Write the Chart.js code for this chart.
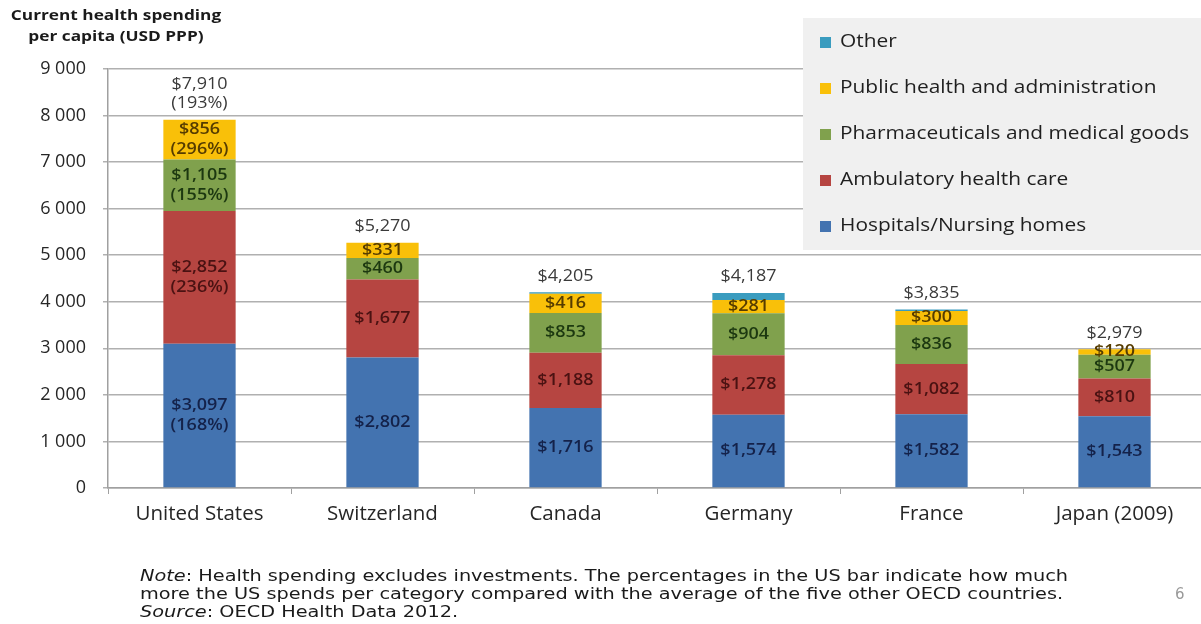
<!DOCTYPE html>
<html>
<head>
<meta charset="utf-8">
<script src="https://cdn.jsdelivr.net/npm/chart.js@4.4.1/dist/chart.umd.min.js"></script>
<style>
  html, body { margin: 0; padding: 0; background: #fff; overflow: hidden; width: 1201px; height: 624px; }
  #wrap { position: absolute; left: 0; top: 0; width: 1210px; height: 624px; }
  #title { position: absolute; left: 0; top: 4px; width: 232px; text-align: center; font: bold 14.5px "Open Sans", sans-serif; line-height: 21px; color: #1a1a1a; transform: scaleX(1.19); transform-origin: 116px 0; }
  #note { position: absolute; left: 140px; top: 567px; font: 15.5px "DejaVu Sans", sans-serif; line-height: 18px; color: #1a1a1a; white-space: nowrap; transform-origin: 0 0; }
  #page { position: absolute; left: 1175px; top: 585px; font: 15px "DejaVu Sans", sans-serif; color: #999; }
</style>
</head>
<body>
<div id="wrap"><canvas id="c" width="1210" height="624"></canvas></div>
<div id="title">Current health spending<br>per capita (USD PPP)</div>
<div id="note"><i>Note</i>: Health spending excludes investments. The percentages in the US bar indicate how much<br>more the US spends per category compared with the average of the five other OECD countries.<br><i>Source</i>: OECD Health Data 2012.</div>
<div id="page">6</div>
<script>
// ---- Data ----
const categories = ['United States', 'Switzerland', 'Canada', 'Germany', 'France', 'Japan (2009)'];
const hospitals  = [3097, 2802, 1716, 1574, 1582, 1543];
const ambulatory = [2852, 1677, 1188, 1278, 1082, 810];
const pharma     = [1105, 460, 853, 904, 836, 507];
const publicAdm  = [856, 331, 416, 281, 300, 120];
const other      = [0, 0, 32, 150, 35, 0];
const totals     = [7910, 5270, 4205, 4187, 3835, 2979];
// US percentages (how much more than average of other five)
const hospitalsPct  = [168, null, null, null, null, null];
const ambulatoryPct = [236, null, null, null, null, null];
const pharmaPct     = [155, null, null, null, null, null];
const publicPct     = [296, null, null, null, null, null];
const totalsPct     = [193, null, null, null, null, null];
const yTicks = [0, 1000, 2000, 3000, 4000, 5000, 6000, 7000, 8000, 9000];

const fmt = v => v.toLocaleString('en-US');
const FONT = '"Open Sans", sans-serif';
const STRETCH = 1.16;

// fit the note to the reference width
(function () {
  const n = document.getElementById('note');
  const first = document.createElement('span');
  first.style.cssText = 'position:absolute;visibility:hidden;white-space:nowrap;font:15.5px "DejaVu Sans",sans-serif';
  first.innerHTML = '<i>Note</i>: Health spending excludes investments. The percentages in the US bar indicate how much';
  document.body.appendChild(first);
  const fw = first.getBoundingClientRect().width;
  first.remove();
  n.style.transform = 'scaleX(' + (928 / fw) + ')';
})();

const seriesPct = [hospitalsPct, ambulatoryPct, pharmaPct, publicPct];
const labelColors = ['#14224a', '#4a1212', '#1c3810', '#563c00'];

function stretchedText(ctx, t, x, y) {
  ctx.save();
  ctx.translate(x, y);
  ctx.scale(STRETCH, 1);
  ctx.fillText(t, 0, 0);
  ctx.restore();
}

const labelPlugin = {
  id: 'labels',
  afterDatasetsDraw(chart) {
    const ctx = chart.ctx;
    ctx.save();
    ctx.font = '600 15.5px ' + FONT;
    ctx.textAlign = 'center';
    ctx.textBaseline = 'middle';
    for (let i = 0; i < 4; i++) {
      const meta = chart.getDatasetMeta(i);
      const vals = chart.data.datasets[i].data;
      meta.data.forEach((el, j) => {
        const lines = ['$' + fmt(vals[j])];
        if (seriesPct[i][j] != null) lines.push('(' + seriesPct[i][j] + '%)');
        const cy = (el.y + el.base) / 2;
        const lh = 20;
        ctx.fillStyle = labelColors[i];
        lines.forEach((t, k) => stretchedText(ctx, t, el.x, cy + (k - (lines.length - 1) / 2) * lh));
      });
    }
    const topMeta = chart.getDatasetMeta(4);
    ctx.fillStyle = '#3a3a3a';
    ctx.font = '15.5px ' + FONT;
    topMeta.data.forEach((el, j) => {
      const lines = ['$' + fmt(totals[j])];
      if (totalsPct[j] != null) lines.push('(' + totalsPct[j] + '%)');
      const lastY = el.y - 16;
      lines.forEach((t, k) => stretchedText(ctx, t, el.x, lastY - (lines.length - 1 - k) * 19));
    });
    ctx.restore();
  }
};

const legendPlugin = {
  id: 'boxLegend',
  afterDraw(chart) {
    const ctx = chart.ctx;
    ctx.save();
    ctx.fillStyle = '#f0f0f0';
    ctx.fillRect(803, 18, 410, 232);
    ctx.font = '18px ' + FONT;
    ctx.textAlign = 'left';
    ctx.textBaseline = 'middle';
    const ds = chart.data.datasets.slice().reverse();
    ds.forEach((d, k) => {
      const y = 42 + k * 46;
      ctx.fillStyle = d.backgroundColor;
      ctx.fillRect(820, y - 5, 11, 11);
      ctx.fillStyle = '#1f1f1f';
      stretchedText(ctx, d.label, 840, y);
    });
    ctx.restore();
  }
};

new Chart(document.getElementById('c'), {
  type: 'bar',
  data: {
    labels: categories,
    datasets: [
      { label: 'Hospitals/Nursing homes', data: hospitals, backgroundColor: '#4373b0' },
      { label: 'Ambulatory health care', data: ambulatory, backgroundColor: '#b64541' },
      { label: 'Pharmaceuticals and medical goods', data: pharma, backgroundColor: '#80a14d' },
      { label: 'Public health and administration', data: publicAdm, backgroundColor: '#f9c009' },
      { label: 'Other', data: other, backgroundColor: '#3a9cbf' }
    ]
  },
  options: {
    responsive: false,
    animation: false,
    devicePixelRatio: 1,
    categoryPercentage: 1,
    barPercentage: 0.395,
    layout: { padding: { top: 69, right: 4, left: 0, bottom: 0 } },
    plugins: { legend: { display: false }, tooltip: { enabled: false }, title: { display: false } },
    scales: {
      x: {
        stacked: true,
        afterFit: s => { s.height = 136; },
        grid: { drawOnChartArea: false, drawTicks: true, tickLength: 6, color: '#a0a0a0', offset: true },
        border: { display: true, color: '#a0a0a0', width: 1.5 },
        ticks: { color: '#262626', font: { family: FONT, size: 20.5 }, padding: 8, maxRotation: 0, autoSkip: false }
      },
      y: {
        stacked: true,
        min: 0, max: 9000,
        afterFit: s => { s.width = 108; },
        afterBuildTicks: s => { s.ticks = yTicks.map(v => ({ value: v })); },
        grid: { color: '#b0b0b0', lineWidth: 1.5, tickLength: 5 },
        border: { display: true, color: '#a0a0a0', width: 1.5 },
        ticks: { color: '#262626', font: { family: FONT, size: 18 }, padding: 17,
                 callback: v => fmt(v).replace(',', ' ') }
      }
    }
  },
  plugins: [labelPlugin, legendPlugin]
});
</script>
</body>
</html>
